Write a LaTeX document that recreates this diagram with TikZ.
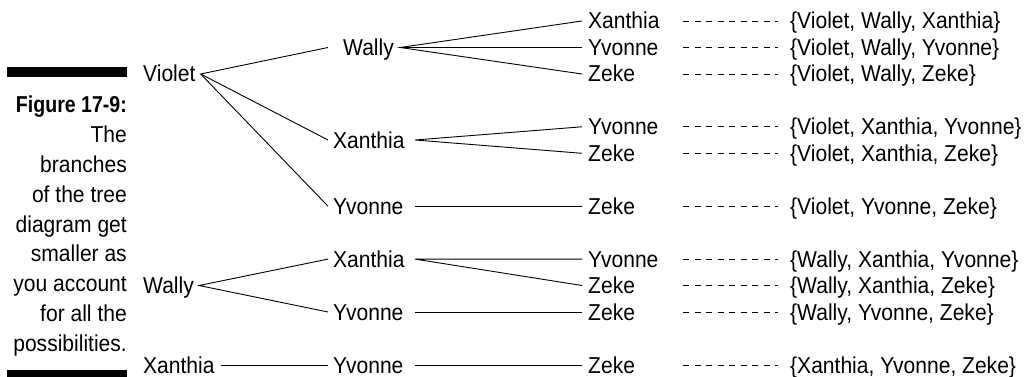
\documentclass[tikz,border=0pt]{standalone}
\usepackage{fontspec}
\setmainfont[FakeStretch=0.915]{Liberation Sans}
\newfontfamily\capfont[FakeStretch=0.85]{Liberation Sans}
\begin{document}
\begin{tikzpicture}[x=1pt,y=-1pt,
  lbl/.style={anchor=base west, inner xsep=0pt, inner ysep=0pt, text height=16pt, text depth=0pt, font=\fontsize{23}{27}\selectfont},
  capline/.style={anchor=base east, inner sep=0pt, font=\fontsize{23}{27}\selectfont},
  branch/.style={line width=0.9pt},
  dashline/.style={line width=0.9pt, dash pattern=on 6pt off 5.5pt}]
\useasboundingbox (0,0) rectangle (1025,377);
% bars
\fill (7,67) rectangle (127,77);
\fill (7,370) rectangle (127,377);
% caption
\node[capline] (c0) at (127,113) {\capfont\bfseries Figure 17-9:};
\node[capline] (c1) at (127,142.75) {The};
\node[capline] (c2) at (127,172.5) {branches};
\node[capline] (c3) at (127,202.25) {of the tree};
\node[capline] (c4) at (127,232) {diagram get};
\node[capline] (c5) at (127,261.75) {smaller as};
\node[capline] (c6) at (127,291.5) {you account};
\node[capline] (c7) at (127,321.25) {for all the};
\node[capline] (c8) at (127,351) {possibilities.};
% level 1
\node[lbl] (v1) at (143,82) {Violet};
\node[lbl] (w1) at (143,293.5) {Wally};
\node[lbl] (x1) at (143,373) {Xanthia};
% level 2
\node[lbl] (w2) at (343,55.5) {Wally};
\node[lbl] (x2) at (333,148) {Xanthia};
\node[lbl] (y2) at (333,214.2) {Yvonne};
\node[lbl] (x2b) at (333,267.1) {Xanthia};
\node[lbl] (y2b) at (333,320) {Yvonne};
\node[lbl] (y2c) at (333,373) {Yvonne};
% level 3
\node[lbl] (t1) at (588,29) {Xanthia};
\node[lbl] (t2) at (588,55.5) {Yvonne};
\node[lbl] (t3) at (588,82) {Zeke};
\node[lbl] (t4) at (588,134.8) {Yvonne};
\node[lbl] (t5) at (588,161.3) {Zeke};
\node[lbl] (t6) at (588,214.2) {Zeke};
\node[lbl] (t7) at (588,267.1) {Yvonne};
\node[lbl] (t8) at (588,293.5) {Zeke};
\node[lbl] (t9) at (588,320) {Zeke};
\node[lbl] (t10) at (588,373) {Zeke};
% results
\node[lbl] (r1) at (790,29) {\{Violet, Wally, Xanthia\}};
\node[lbl] (r2) at (790,55.5) {\{Violet, Wally, Yvonne\}};
\node[lbl] (r3) at (790,82) {\{Violet, Wally, Zeke\}};
\node[lbl] (r4) at (790,134.8) {\{Violet, Xanthia, Yvonne\}};
\node[lbl] (r5) at (790,161.3) {\{Violet, Xanthia, Zeke\}};
\node[lbl] (r6) at (790,214.2) {\{Violet, Yvonne, Zeke\}};
\node[lbl] (r7) at (790,267.1) {\{Wally, Xanthia, Yvonne\}};
\node[lbl] (r8) at (790,293.5) {\{Wally, Xanthia, Zeke\}};
\node[lbl] (r9) at (790,320) {\{Wally, Yvonne, Zeke\}};
\node[lbl] (r10) at (790,373) {\{Xanthia, Yvonne, Zeke\}};
% level 1 -> level 2
\draw[branch] ([xshift=-15pt]w2.west) -- ([xshift=5pt]v1.east) -- ([xshift=-5pt]x2.west);
\draw[branch] ([xshift=5pt]v1.east) -- ([xshift=-5pt]y2.west);
\draw[branch] ([xshift=-5pt]x2b.west) -- ([xshift=5pt]w1.east) -- ([xshift=-5pt]y2b.west);
\draw[branch] ([xshift=6pt]x1.east) -- ([xshift=-5pt]y2c.west);
% level 2 -> level 3
\draw[branch] ([xshift=-6pt]t1.west) -- ([xshift=6pt]w2.east) -- ([xshift=-6pt]t3.west);
\draw[branch] ([xshift=6pt]w2.east) -- ([xshift=-6pt]t2.west);
\draw[branch] ([xshift=-6pt]t4.west) -- ([xshift=82pt]x2.west) -- ([xshift=-6pt]t5.west);
\draw[branch] ([xshift=82pt]y2.west) -- ([xshift=-6pt]t6.west);
\draw[branch] ([xshift=-6pt]t7.west) -- ([xshift=82pt]x2b.west) -- ([xshift=-6pt]t8.west);
\draw[branch] ([xshift=82pt]y2b.west) -- ([xshift=-6pt]t9.west);
\draw[branch] ([xshift=82pt]y2c.west) -- ([xshift=-6pt]t10.west);
% dashed leaders
\foreach \i in {1,...,10}{
  \draw[dashline] ([xshift=95pt]t\i.west) -- ([xshift=-12pt]r\i.west);
}
\end{tikzpicture}
\end{document}
